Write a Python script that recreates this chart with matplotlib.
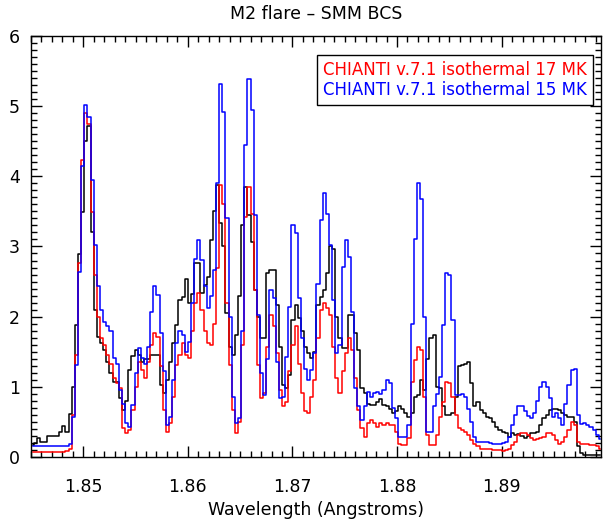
"""
BCS Fe XXV spectrum of an M2 flare compared with CHIANTI v.7.1
isothermal synthetic spectra (17 MK and 15 MK), drawn as histograms.
"""
import numpy as np
import matplotlib
matplotlib.use("Agg")
import matplotlib.pyplot as plt
from matplotlib.ticker import MultipleLocator

# wavelength grid (bin centres, Angstroms)
lam_start = 1.84515
lam_step = 0.0003

# observed SMM BCS counts (normalised)
observed = [
    0.17, 0.20, 0.27, 0.21, 0.21, 0.30, 0.30, 0.30, 0.30, 0.36,
    0.44, 0.36, 0.61, 1.00, 1.88, 2.89, 3.49, 4.50, 4.72, 3.21,
    2.10, 1.71, 1.63, 1.52, 1.36, 1.20, 1.07, 1.07, 0.84, 0.67,
    0.80, 1.24, 1.44, 1.52, 1.45, 1.35, 1.40, 1.40, 1.45, 1.45,
    1.45, 1.03, 0.91, 1.10, 1.36, 1.62, 1.88, 2.24, 2.28, 2.53,
    2.20, 2.32, 2.77, 2.77, 2.33, 2.45, 2.57, 3.09, 3.50, 3.87,
    3.33, 3.00, 2.05, 1.57, 1.45, 1.74, 2.30, 3.30, 3.85, 3.45,
    3.07, 2.38, 2.00, 1.69, 1.69, 2.62, 2.66, 2.66, 2.17, 1.57,
    1.03, 0.98, 1.17, 1.95, 2.17, 1.98, 1.79, 1.57, 1.48, 1.41,
    1.50, 2.17, 2.28, 2.38, 2.62, 3.00, 2.97, 2.00, 1.69, 1.55,
    1.55, 2.02, 2.02, 1.76, 1.52, 0.98, 0.91, 0.76, 0.74, 0.74,
    0.79, 0.82, 0.74, 0.72, 0.69, 0.62, 0.65, 0.72, 0.69, 0.62,
    0.57, 0.62, 0.86, 0.88, 1.10, 0.95, 1.40, 1.69, 1.74, 1.00,
    0.98, 0.72, 0.60, 0.60, 0.62, 0.86, 1.29, 1.31, 1.33, 1.36,
    1.05, 0.72, 0.79, 0.67, 0.62, 0.57, 0.55, 0.50, 0.43, 0.38,
    0.36, 0.34, 0.29, 0.34, 0.31, 0.33, 0.30, 0.27, 0.30, 0.34,
    0.34, 0.36, 0.46, 0.55, 0.60, 0.67, 0.69, 0.69, 0.67, 0.62,
    0.60, 0.57, 0.57, 0.50, 0.15, 0.05, 0.03, 0.03, 0.03, 0.03,
    0.03, 0.03,
]

# CHIANTI isothermal 17 MK
chianti_17 = [
    0.076, 0.076, 0.076, 0.076, 0.076, 0.076, 0.076, 0.076, 0.076, 0.076,
    0.076, 0.09, 0.12, 0.60, 1.45, 2.76, 4.23, 4.90, 4.75, 3.49,
    2.59, 2.00, 1.69, 1.60, 1.45, 1.33, 1.12, 1.05, 0.98, 0.41,
    0.34, 0.38, 0.67, 1.00, 1.36, 1.24, 1.12, 1.36, 1.60, 1.76,
    1.71, 1.29, 0.67, 0.36, 0.48, 0.86, 1.31, 1.45, 1.62, 1.45,
    1.41, 1.79, 2.19, 2.33, 2.09, 1.79, 1.62, 1.60, 1.90, 2.70,
    3.87, 3.60, 2.20, 1.31, 0.67, 0.34, 0.50, 1.60, 3.42, 3.85,
    3.47, 2.38, 1.31, 0.84, 0.91, 1.57, 2.02, 1.86, 1.48, 0.95,
    0.72, 0.79, 1.22, 1.60, 1.86, 1.33, 0.91, 0.65, 0.62, 0.86,
    1.10, 1.70, 2.10, 2.19, 2.12, 2.02, 1.57, 1.12, 0.91, 1.22,
    1.48, 1.69, 1.52, 1.12, 0.67, 0.41, 0.29, 0.48, 0.53, 0.48,
    0.43, 0.48, 0.46, 0.48, 0.45, 0.45, 0.35, 0.19, 0.17, 0.17,
    0.27, 1.07, 1.38, 1.57, 1.52, 0.86, 0.31, 0.17, 0.17, 0.31,
    0.57, 0.79, 1.07, 1.05, 0.86, 0.60, 0.41, 0.38, 0.36, 0.31,
    0.24, 0.19, 0.15, 0.12, 0.11, 0.11, 0.11, 0.10, 0.10, 0.10,
    0.09, 0.10, 0.12, 0.17, 0.22, 0.31, 0.34, 0.34, 0.31, 0.27,
    0.24, 0.25, 0.27, 0.29, 0.34, 0.34, 0.31, 0.24, 0.18, 0.22,
    0.29, 0.39, 0.50, 0.45, 0.22, 0.19, 0.19, 0.19, 0.17, 0.17,
    0.15, 0.11,
]

# CHIANTI isothermal 15 MK
chianti_15 = [
    0.16, 0.16, 0.16, 0.16, 0.16, 0.16, 0.16, 0.16, 0.16, 0.16,
    0.16, 0.16, 0.19, 0.57, 1.31, 2.63, 4.14, 5.01, 4.85, 3.95,
    3.02, 2.43, 2.09, 1.93, 1.86, 1.79, 1.41, 1.33, 0.95, 0.76,
    0.48, 0.43, 0.74, 1.19, 1.55, 1.41, 1.33, 1.57, 2.07, 2.43,
    2.31, 1.76, 1.22, 0.46, 0.57, 1.10, 1.62, 1.79, 1.74, 1.50,
    1.64, 2.19, 2.82, 3.09, 2.81, 2.43, 2.12, 2.30, 2.66, 3.90,
    5.31, 4.92, 3.40, 2.00, 0.86, 0.48, 0.55, 1.80, 4.44, 5.38,
    4.94, 3.45, 2.02, 1.19, 0.88, 1.40, 2.38, 2.26, 1.36, 0.84,
    0.86, 1.43, 2.14, 3.30, 3.19, 2.26, 1.69, 1.26, 1.10, 1.24,
    1.48, 2.47, 3.38, 3.76, 3.47, 3.02, 2.24, 1.48, 1.60, 2.71,
    3.09, 2.85, 2.07, 0.98, 0.72, 0.53, 0.72, 0.93, 0.86, 0.91,
    0.93, 0.90, 0.95, 1.10, 1.05, 0.70, 0.55, 0.29, 0.29, 0.29,
    0.46, 1.90, 3.11, 3.90, 3.68, 2.00, 0.36, 0.36, 0.72, 0.90,
    1.14, 1.88, 2.62, 2.59, 1.95, 0.88, 0.88, 0.90, 0.86, 0.69,
    0.50, 0.29, 0.22, 0.22, 0.22, 0.21, 0.20, 0.19, 0.19, 0.19,
    0.20, 0.22, 0.28, 0.45, 0.60, 0.72, 0.72, 0.65, 0.58, 0.55,
    0.62, 0.80, 1.00, 1.07, 1.00, 0.84, 0.57, 0.62, 0.55, 0.45,
    0.76, 1.03, 1.24, 1.26, 0.60, 0.47, 0.48, 0.46, 0.43, 0.38,
    0.31, 0.26,
]

wavelength = lam_start + lam_step * np.arange(len(observed))

fig = plt.figure(figsize=(6.05, 5.2), dpi=100)
ax = fig.add_axes([0.0512, 0.1212, 0.9421, 0.8096])

ax.plot(wavelength, observed, drawstyle="steps-mid", color="black", lw=1.1)
l17, = ax.plot(wavelength, chianti_17, drawstyle="steps-mid", color="#ff0000", lw=1.1)
l15, = ax.plot(wavelength, chianti_15, drawstyle="steps-mid", color="#0000ff", lw=1.1)

ax.set_xlim(1.845, 1.8995)
ax.set_ylim(0, 6)

ax.xaxis.set_major_locator(MultipleLocator(0.01))
ax.xaxis.set_minor_locator(MultipleLocator(0.001))
ax.yaxis.set_major_locator(MultipleLocator(1))
ax.yaxis.set_minor_locator(MultipleLocator(0.1))
ax.xaxis.set_major_formatter(plt.FuncFormatter(lambda v, p: f"{v:.2f}"))
ax.yaxis.set_major_formatter(plt.FuncFormatter(lambda v, p: f"{v:.0f}"))

ax.tick_params(which="both", direction="in", top=True, right=True,
               labelsize=12.5, width=1.0)
ax.tick_params(which="major", length=8)
ax.tick_params(which="minor", length=4)
ax.tick_params(axis="x", pad=15)
ax.tick_params(axis="y", pad=8)
for s in ax.spines.values():
    s.set_linewidth(1.0)

ax.set_xlabel("Wavelength (Angstroms)", fontsize=12.5, labelpad=4)
ax.set_title("M2 flare \u2013 SMM BCS", fontsize=12.5, pad=12)

leg = ax.legend([l17, l15],
                ["CHIANTI v.7.1 isothermal 17 MK", "CHIANTI v.7.1 isothermal 15 MK"],
                loc="upper right", bbox_to_anchor=(0.986, 0.955), borderaxespad=0,
                handlelength=0, handletextpad=0, labelcolor=["#ff0000", "#0000ff"],
                fancybox=False, edgecolor="black", framealpha=1, fontsize=12,
                borderpad=0.35, labelspacing=0.15)
leg.get_frame().set_linewidth(1.0)
for h in leg.legend_handles:
    h.set_visible(False)

fig.savefig("out.png", dpi=100)
